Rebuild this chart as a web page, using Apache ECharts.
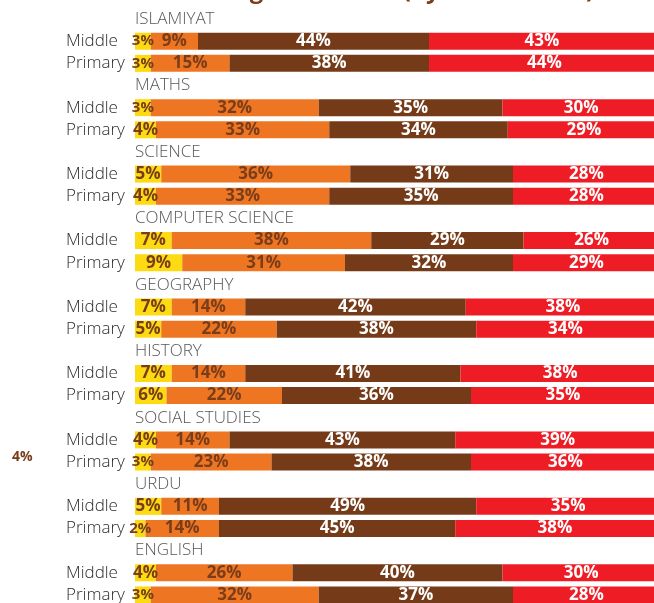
<!DOCTYPE html>
<html>
<head>
<meta charset="utf-8">
<script src="https://cdn.jsdelivr.net/npm/echarts@6/dist/echarts.min.js"></script>
<style>
  html, body { margin: 0; padding: 0; background: #fff; }
  #grafico1 { width: 654px; height: 603px; }
</style>
</head>
<body>
<div id="grafico1"></div>
<script>
// subjects, each one has a Middle and a Primary row
const subjects = ['ISLAMIYAT', 'MATHS', 'SCIENCE', 'COMPUTER SCIENCE', 'GEOGRAPHY', 'HISTORY', 'SOCIAL STUDIES', 'URDU', 'ENGLISH'];
const levels = ['Middle', 'Primary'];

// [middle, primary] per subject
const yellowBD = [[3, 3], [3, 4], [5, 4], [7, 9], [7, 5], [7, 6], [4, 3], [5, 2], [4, 3]];
const orangeBD = [[9, 15], [32, 33], [36, 33], [38, 31], [14, 22], [14, 22], [14, 23], [11, 14], [26, 32]];
const brownBD = [[44, 38], [35, 34], [31, 35], [29, 32], [42, 38], [41, 36], [43, 38], [49, 45], [40, 37]];
const redBD = [[43, 44], [30, 29], [28, 28], [26, 29], [38, 34], [38, 35], [39, 36], [35, 38], [30, 28]];

// each subject takes 3 slots: title, Middle, Primary
var rows = [];
var titlePoints = [];
subjects.forEach(function (s, i) {
  rows.push(s + '|title');
  titlePoints.push({ value: [0, rows.length - 1], name: s });
  levels.forEach(function (l) {
    rows.push(s + '|' + l);
  });
});

function buildRows(bd, small) {
  var out = [];
  bd.forEach(function (pair) {
    out.push('-');
    pair.forEach(function (v) {
      if (small && v <= 3) {
        out.push({ value: v, label: { fontSize: 15 } });
      } else {
        out.push(v);
      }
    });
  });
  return out;
}

var dom = document.getElementById('grafico1');
var myChart = echarts.init(dom, null, {
  renderer: 'canvas',
  useDirtyRect: false,
});

var option;

const darkLabel = {
  show: true,
  position: 'inside',
  color: '#7a3d1a',
  fontFamily: 'Open Sans',
  fontWeight: 'bold',
  fontSize: 17,
  formatter: '{c}%',
};
const lightLabel = {
  show: true,
  position: 'inside',
  color: '#fff',
  fontFamily: 'Open Sans',
  fontWeight: 'bold',
  fontSize: 17,
  formatter: '{c}%',
};

option = {
  backgroundColor: '#fff',
  animation: false,
  graphic: [
    {
      type: 'text',
      left: 103,
      top: -21,
      style: {
        text: 'classroom – government (by school level)',
        fill: '#7a3d1a',
        font: 'bold 24px "Open Sans"',
      },
    },
    {
      type: 'text',
      left: 12,
      top: 450,
      style: {
        text: '4%',
        fill: '#7a3d1a',
        font: 'bold 14px "Open Sans"',
      },
    },
  ],
  grid: {
    left: 135,
    top: 8,
    width: 525,
    height: 598,
    containLabel: false,
    outerBoundsMode: 'none',
  },
  xAxis: {
    type: 'value',
    min: 0,
    max: 100,
    show: false,
  },
  yAxis: {
    type: 'category',
    inverse: true,
    data: rows,
    axisLine: { show: false },
    axisTick: { show: false },
    axisLabel: {
      align: 'left',
      margin: 69,
      color: '#2b2b2b',
      fontFamily: 'Open Sans',
      fontWeight: 300,
      fontSize: 17,
      formatter: function (v) {
        var p = v.split('|')[1];
        return p === 'title' ? '' : p;
      },
    },
  },
  series: [
    {
      name: 'Yellow',
      type: 'bar',
      stack: 'total',
      barWidth: 17,
      data: buildRows(yellowBD, true),
      itemStyle: { color: '#fcdb12' },
      label: darkLabel,
    },
    {
      name: 'Orange',
      type: 'bar',
      stack: 'total',
      barWidth: 17,
      data: buildRows(orangeBD),
      itemStyle: { color: '#ee7623' },
      label: darkLabel,
    },
    {
      name: 'Brown',
      type: 'bar',
      stack: 'total',
      barWidth: 17,
      data: buildRows(brownBD),
      itemStyle: { color: '#753b19' },
      label: lightLabel,
    },
    {
      name: 'Red',
      type: 'bar',
      stack: 'total',
      barWidth: 17,
      data: buildRows(redBD),
      itemStyle: { color: '#ee1d25' },
      label: lightLabel,
    },
    {
      name: 'Subjects',
      type: 'scatter',
      symbolSize: 0,
      data: titlePoints,
      label: {
        show: true,
        position: 'right',
        distance: 0,
        color: '#2b2b2b',
        fontFamily: 'Open Sans',
        fontWeight: 300,
        fontSize: 17,
        formatter: '{b}',
      },
    },
  ],
};

if (option && typeof option === 'object') {
  myChart.setOption(option);
}

window.addEventListener('resize', myChart.resize);
</script>
</body>
</html>
